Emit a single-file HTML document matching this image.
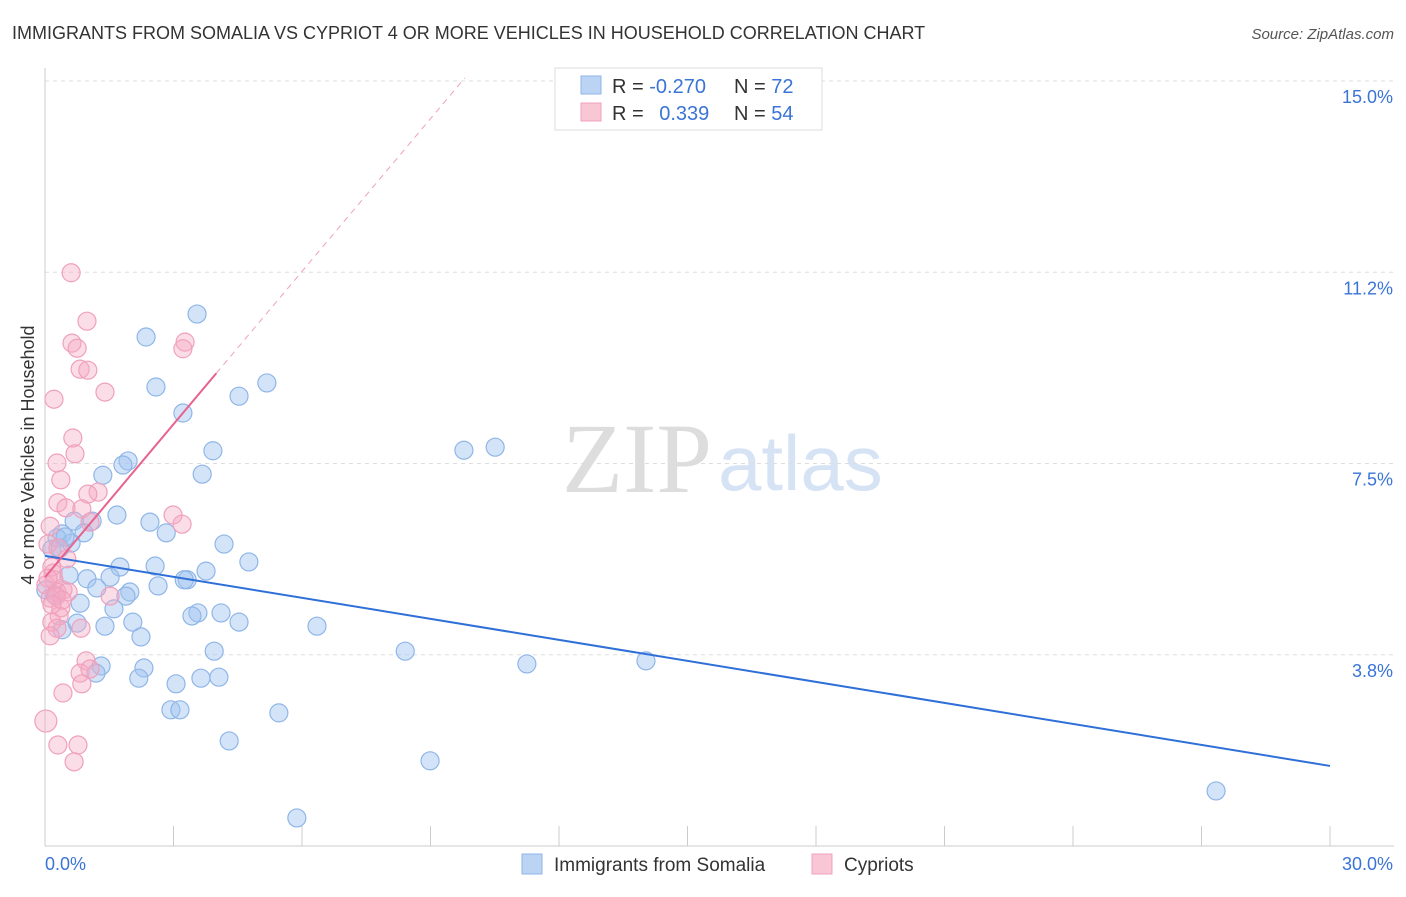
<!DOCTYPE html>
<html><head><meta charset="utf-8">
<style>
body{margin:0;background:#fff;font-family:"Liberation Sans",sans-serif;}
svg text{font-family:"Liberation Sans",sans-serif;}
</style></head>
<body>
<svg id="chart" width="1406" height="892" xmlns="http://www.w3.org/2000/svg">
<text x="12" y="39" font-size="18" fill="#333">IMMIGRANTS FROM SOMALIA VS CYPRIOT 4 OR MORE VEHICLES IN HOUSEHOLD CORRELATION CHART</text>
<text x="1394" y="39" font-size="15" fill="#555" font-style="italic" text-anchor="end">Source: ZipAtlas.com</text>
<text x="712" y="492" font-size="100" fill="#ddd" text-anchor="end" font-family="Liberation Serif" style="font-family:'Liberation Serif',serif">ZIP</text>
<text x="718" y="490" font-size="78" fill="#d6e3f5">atlas</text>
<g id="grid"></g>
<g id="axes"></g>
<g id="pts"></g>
<g id="lines"></g>
<text transform="translate(34,455) rotate(-90)" font-size="18" fill="#333" text-anchor="middle">4 or more Vehicles in Household</text>
<g>
<rect x="555" y="68" width="267" height="62" fill="#fff" stroke="#ddd"/>
<rect x="581" y="76" width="20" height="18" fill="#bcd4f4" stroke="#8fb6e8"/>
<rect x="581" y="103" width="20" height="18" fill="#f9c6d6" stroke="#f0a0bc"/>
<text x="612" y="93" font-size="20" fill="#333">R = <tspan fill="#3a74d6">-0.270</tspan></text>
<text x="734" y="93" font-size="20" fill="#333">N = <tspan fill="#3a74d6">72</tspan></text>
<text x="612" y="120" font-size="20" fill="#333">R = <tspan fill="#3a74d6" dx="10">0.339</tspan></text>
<text x="734" y="120" font-size="20" fill="#333">N = <tspan fill="#3a74d6">54</tspan></text>
</g>
<g>
<rect x="522" y="854" width="20" height="20" fill="#bcd4f4" stroke="#8fb6e8"/>
<text x="554" y="871" font-size="19" fill="#333">Immigrants from Somalia</text>
<rect x="812" y="854" width="20" height="20" fill="#f9c6d6" stroke="#f0a0bc"/>
<text x="844" y="871" font-size="19" fill="#333">Cypriots</text>
</g>
</svg>
<script>
const yTicks=[3.75,7.5,11.25,15];
const yTickLabels=["3.8%","7.5%","11.2%","15.0%"];
const xTicks=[0,3,6,9,12,15,18,21,24,27,30];
const blueX=[3.55,2.36,2.59,5.18,4.53,3.22,3.92,9.78,10.51,1.35,1.94,1.82,3.67,1.68,2.45,1.10,0.68,2.83,0.91,0.40,0.28,0.61,4.18,4.76,2.57,1.75,0.56,1.52,0.98,3.76,3.32,3.25,2.64,1.21,1.98,1.89,0.82,1.61,3.57,3.43,4.11,4.53,2.05,1.40,0.75,0.40,6.35,2.24,3.95,8.41,11.25,14.03,1.31,2.31,1.19,2.19,4.06,3.64,3.06,2.94,3.15,5.46,4.30,8.99,27.34,5.88,0.16,0.35,0.47,0.23,0.02];
const blueY=[10.43,9.98,9.0,9.08,8.82,8.49,7.75,7.76,7.82,7.27,7.55,7.47,7.29,6.49,6.35,6.37,6.37,6.14,6.14,6.12,6.04,5.94,5.92,5.57,5.49,5.47,5.31,5.27,5.24,5.39,5.22,5.22,5.10,5.06,4.98,4.90,4.76,4.65,4.57,4.51,4.57,4.39,4.39,4.31,4.37,4.24,4.31,4.10,3.82,3.82,3.57,3.63,3.53,3.49,3.39,3.29,3.31,3.29,3.18,2.67,2.67,2.61,2.06,1.67,1.08,0.55,5.82,5.84,6.06,4.92,5.02];
const pinkX=[0.61,0.98,0.63,0.75,3.27,3.22,0.82,1.00,0.21,1.40,0.65,0.70,0.28,0.37,0.30,1.24,1.00,0.49,0.86,2.99,3.20,0.12,1.05,0.07,0.30,0.51,0.16,0.21,0.02,0.42,0.28,0.54,1.52,0.12,0.37,0.33,0.16,0.84,0.28,0.12,0.96,0.82,1.05,0.86,0.42,0.02,0.30,0.77,0.68,0.26,0.40,0.16,0.19,0.07];
const pinkY=[11.24,10.29,9.86,9.76,9.88,9.75,9.35,9.33,8.76,8.90,8.0,7.69,7.51,7.18,6.73,6.94,6.90,6.63,6.61,6.49,6.31,6.27,6.35,5.92,5.84,5.63,5.47,5.22,5.12,5.02,4.98,4.98,4.90,4.86,4.67,4.51,4.39,4.27,4.27,4.12,3.63,3.39,3.47,3.18,3.0,2.45,1.98,1.98,1.65,4.90,4.82,4.73,5.35,5.25];
const blueTrend=[[0,5.69],[30,1.57]];
const pinkTrend=[[0,5.27],[4.0,9.27]];
const pinkDash=[[4.0,9.27],[9.8,15.06]];
const NS="http://www.w3.org/2000/svg";
const xs=v=>45+v*(1285/30);
const ys=v=>846-v*(765/15);
function mk(parent,tag,attrs){const e=document.createElementNS(NS,tag);for(const k in attrs)e.setAttribute(k,attrs[k]);document.getElementById(parent).appendChild(e);return e;}
yTicks.forEach((t,i)=>{
 const g=mk('grid','line',{x1:45,x2:1394,y1:ys(t),y2:ys(t),stroke:'#ddd','stroke-dasharray':'4,4'});
 
 
 const tx=mk('axes','text',{x:1393,y:ys(t)+22,'font-size':18,fill:'#3a74d6','text-anchor':'end'});
 tx.textContent=yTickLabels[i];
 
 
});
const ax=mk('axes','line',{x1:45,x2:1394,y1:846,y2:846,stroke:'#ccc'});


const ay=mk('axes','line',{x1:45,x2:45,y1:68,y2:846,stroke:'#ccc'});


xTicks.forEach(t=>{
 const l=mk('axes','line',{x1:xs(t),x2:xs(t),y1:826,y2:846,stroke:'#ccc'});
 
 
});
const xl0=mk('axes','text',{x:45,y:870,'font-size':18,fill:'#3a74d6'});xl0.textContent="0.0%";


const xl1=mk('axes','text',{x:1393,y:870,'font-size':18,fill:'#3a74d6','text-anchor':'end'});xl1.textContent="30.0%";


blueX.forEach((x,i)=>{
 const c=mk('pts','circle',{cx:xs(x),cy:ys(blueY[i]),r:9,fill:'rgba(160,196,240,0.45)',stroke:'#8fb6e8','stroke-width':1.2});
 
 
});
pinkX.forEach((x,i)=>{
 const c=mk('pts','circle',{cx:xs(x),cy:ys(pinkY[i]),r:(i===45?11:9),fill:'rgba(245,170,195,0.4)',stroke:'#f0a0bc','stroke-width':1.2});
 
 
});
const bl=mk('lines','line',{x1:xs(blueTrend[0][0]),y1:ys(blueTrend[0][1]),x2:xs(blueTrend[1][0]),y2:ys(blueTrend[1][1]),stroke:'#2f6fd8','stroke-width':2});


const pl=mk('lines','line',{x1:xs(pinkTrend[0][0]),y1:ys(pinkTrend[0][1]),x2:xs(pinkTrend[1][0]),y2:ys(pinkTrend[1][1]),stroke:'#e8628e','stroke-width':2});


const pd=mk('lines','line',{x1:xs(pinkDash[0][0]),y1:ys(pinkDash[0][1]),x2:xs(pinkDash[1][0]),y2:ys(pinkDash[1][1]),stroke:'#f0a0bc','stroke-width':1,'stroke-dasharray':'6,5'});


</script>
</body></html>
